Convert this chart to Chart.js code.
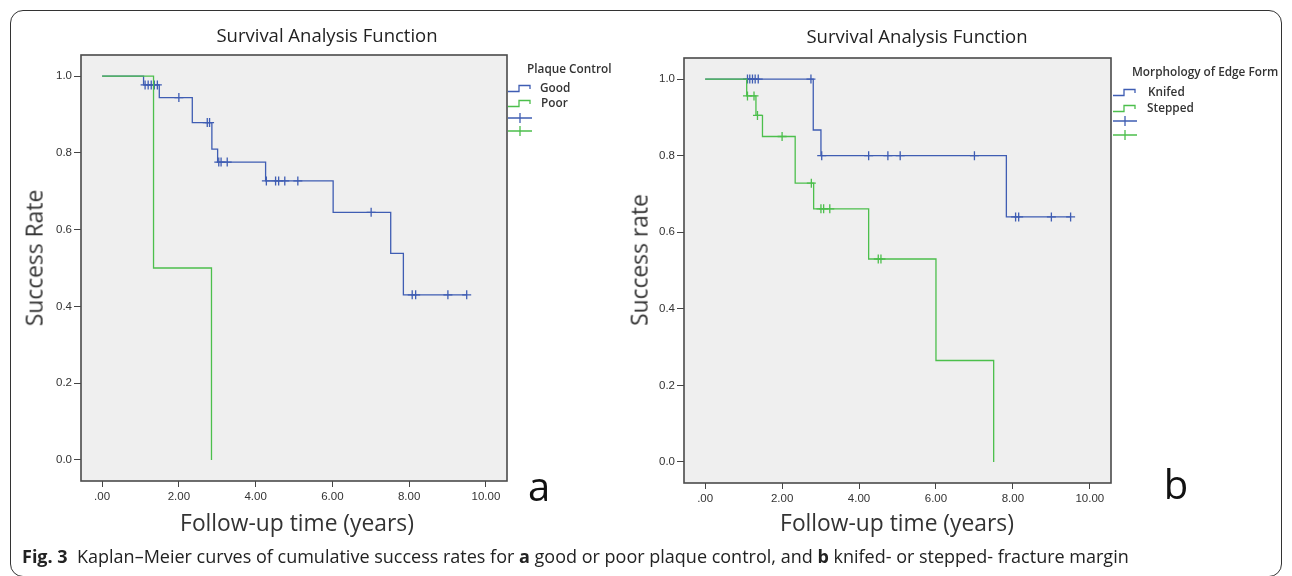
<!DOCTYPE html>
<html>
<head>
<meta charset="utf-8">
<script src="https://cdn.jsdelivr.net/npm/chart.js@4.4.1/dist/chart.umd.min.js"></script>
<style>
  html, body { margin: 0; padding: 0; background: #fff; }
  body { width: 1292px; height: 576px; position: relative; overflow: hidden; font-family: "Open Sans", sans-serif; color: #222; }
  canvas { position: absolute; left: 0; top: 0; }
  .frame { position: absolute; left: 10px; top: 10px; width: 1272px; height: 567px; box-sizing: border-box; border: 1px solid #333; border-radius: 13px; }
  .t { position: absolute; white-space: nowrap; line-height: 1; z-index: 2; }
  .mid { transform: translate(-50%, -50%); }
  .left { transform: translateY(-50%); }
  .title { font-size: 18.5px; color: #222; }
  .axis { font-size: 22.8px; color: #333; }
  .rot { transform: translate(-50%, -50%) rotate(-90deg); }
  .letter { font-size: 40px; color: #111; }
  .lg { font-size: 11.8px; font-weight: 600; color: #333; }
  .icon { position: absolute; z-index: 2; }
  .cap { font-size: 18px; color: #222; }
</style>
</head>
<body>
<div class="frame"></div>
<canvas id="chartA" width="1292" height="576"></canvas>
<canvas id="chartB" width="1292" height="576"></canvas>

<!-- Panel a -->
<div class="t mid title" style="left:327px; top:35px">Survival Analysis Function</div>
<div class="t rot axis" style="left:35px; top:258px">Success Rate</div>
<div class="t mid axis" style="left:297px; top:523px">Follow-up time (years)</div>
<div class="t mid letter" style="left:539px; top:486px">a</div>
<div class="t left lg" style="left:527px; top:69px">Plaque Control</div>
<svg class="icon" style="left:508px; top:83px" width="24" height="10"><path d="M0 8.5H11V2.5H22V6" fill="none" stroke="#3f5db3" stroke-width="1.3"/></svg>
<div class="t left lg" style="left:540px; top:88px">Good</div>
<svg class="icon" style="left:508px; top:98px" width="24" height="10"><path d="M0 8.5H11V2.5H22V6" fill="none" stroke="#4cbf4c" stroke-width="1.3"/></svg>
<div class="t left lg" style="left:541px; top:103px">Poor</div>
<svg class="icon" style="left:508px; top:112px" width="24" height="12"><path d="M0 6H24M12 1V11" fill="none" stroke="#3f5db3" stroke-width="1.3"/></svg>
<svg class="icon" style="left:508px; top:125px" width="24" height="12"><path d="M0 6H24M12 1V11" fill="none" stroke="#4cbf4c" stroke-width="1.3"/></svg>

<!-- Panel b -->
<div class="t mid title" style="left:917px; top:36px">Survival Analysis Function</div>
<div class="t rot axis" style="left:640px; top:260px">Success rate</div>
<div class="t mid axis" style="left:897px; top:523px">Follow-up time (years)</div>
<div class="t mid letter" style="left:1176px; top:484px">b</div>
<div class="t left lg" style="left:1132px; top:72px">Morphology of Edge Form</div>
<svg class="icon" style="left:1113px; top:87px" width="24" height="10"><path d="M0 8.5H11V2.5H22V6" fill="none" stroke="#3f5db3" stroke-width="1.3"/></svg>
<div class="t left lg" style="left:1148px; top:92px">Knifed</div>
<svg class="icon" style="left:1113px; top:103px" width="24" height="10"><path d="M0 8.5H11V2.5H22V6" fill="none" stroke="#4cbf4c" stroke-width="1.3"/></svg>
<div class="t left lg" style="left:1147px; top:108px">Stepped</div>
<svg class="icon" style="left:1113px; top:115px" width="24" height="12"><path d="M0 6H24M12 1V11" fill="none" stroke="#3f5db3" stroke-width="1.3"/></svg>
<svg class="icon" style="left:1113px; top:129px" width="24" height="12"><path d="M0 6H24M12 1V11" fill="none" stroke="#4cbf4c" stroke-width="1.3"/></svg>

<div class="t left cap" style="left:22px; top:556px"><b>Fig. 3</b>&nbsp; Kaplan–Meier curves of cumulative success rates for <b>a</b> good or poor plaque control, and <b>b</b> knifed- or stepped- fracture margin</div>

<script>
// Achsen
const xTickValues = [0, 2, 4, 6, 8, 10];
const xTickLabels = [".00", "2.00", "4.00", "6.00", "8.00", "10.00"];
const yTickValues = [0, 0.2, 0.4, 0.6, 0.8, 1.0];
const yTickLabels = ["0.0", "0.2", "0.4", "0.6", "0.8", "1.0"];

// a – Plaque Control (Zeit in Jahren, Ereigniszeitpunkte + Überlebensrate danach)
const goodTimes = [0, 1.08, 1.49, 2.35, 2.86, 3.01, 4.26, 6.02, 7.52, 7.85, 9.5];
const goodSurv = [1.0, 0.977, 0.944, 0.879, 0.810, 0.776, 0.727, 0.645, 0.538, 0.430, 0.430];
const goodCensored = [1.12, 1.2, 1.28, 1.36, 1.44, 2.0, 2.74, 2.8, 3.04, 3.1, 3.26, 4.28, 4.52, 4.6, 4.76, 5.1, 7.01, 8.08, 8.17, 9.01, 9.5];
const poorTimes = [0, 1.34, 2.85];
const poorSurv = [1.0, 0.5, 0.0];
const poorCensored = [];

// b – Morphology of Edge Form
const knifedTimes = [0, 2.81, 3.01, 7.83, 9.5];
const knifedSurv = [1.0, 0.867, 0.800, 0.640, 0.640];
const knifedCensored = [1.1, 1.16, 1.23, 1.3, 1.38, 2.75, 3.03, 4.25, 4.75, 5.07, 7.0, 8.07, 8.15, 9.0, 9.5];
const steppedTimes = [0, 1.08, 1.32, 1.49, 2.34, 2.82, 4.25, 6.0, 7.5];
const steppedSurv = [1.0, 0.956, 0.905, 0.850, 0.728, 0.661, 0.530, 0.265, 0.0];
const steppedCensored = [1.1, 1.27, 1.36, 2.0, 2.76, 3.01, 3.08, 3.24, 4.5, 4.57];

const BLUE = "#3f5db3";
const GREEN = "#4cbf4c";
const tickFont = { family: "'Liberation Sans', Arial, sans-serif", size: 11.5 };

// Stufen-Punkte
function steps(times, surv) {
  return times.map((t, i) => ({ x: t, y: surv[i] }));
}

// Zensierte Fälle liegen auf der jeweiligen Stufe
function marks(times, surv, censored) {
  return censored.map(t => {
    let y = surv[0];
    for (let i = 0; i < times.length; i++) {
      if (times[i] <= t) y = surv[i];
    }
    return { x: t, y };
  });
}

// grauer Plotbereich mit Rahmen wie SPSS
const plotFrame = {
  id: "plotFrame",
  beforeDraw(chart) {
    const { ctx, chartArea: a } = chart;
    ctx.save();
    ctx.fillStyle = "#efefef";
    ctx.fillRect(a.left, a.top, a.width, a.height);
    ctx.restore();
  },
  afterDraw(chart) {
    const { ctx, chartArea: a } = chart;
    ctx.save();
    ctx.strokeStyle = "#4a4a4a";
    ctx.lineWidth = 1.6;
    ctx.strokeRect(a.left, a.top, a.width, a.height);
    ctx.restore();
  }
};

function renderKM(ctxId, padding, groups) {
  const canvas = document.getElementById(ctxId);
  if (!canvas) {
    console.error(`Canvas '${ctxId}' nicht gefunden`);
    return;
  }
  const datasets = [];
  groups.forEach(g => {
    datasets.push({
      data: steps(g.times, g.surv),
      borderColor: g.color,
      borderWidth: 1.3,
      stepped: "before",
      pointRadius: 0,
      fill: false,
      order: g.order
    });
    datasets.push({
      data: marks(g.times, g.surv, g.censored),
      showLine: false,
      pointStyle: "cross",
      pointRadius: 4.5,
      pointBorderColor: g.color,
      pointBackgroundColor: g.color,
      pointBorderWidth: 1.3,
      order: g.order
    });
  });

  new Chart(canvas, {
    type: "line",
    data: { datasets },
    plugins: [plotFrame],
    options: {
      responsive: false,
      animation: false,
      devicePixelRatio: 1,
      layout: { padding },
      plugins: { legend: { display: false }, tooltip: { enabled: false } },
      scales: {
        x: {
          type: "linear",
          min: -0.55,
          max: 10.55,
          afterBuildTicks: s => { s.ticks = xTickValues.map(v => ({ value: v })); },
          afterFit: s => { s.height = 30; },
          ticks: {
            callback: (v, i) => xTickLabels[i],
            color: "#333",
            font: tickFont,
            padding: 3,
            maxRotation: 0,
            autoSkip: false
          },
          grid: { drawOnChartArea: false, drawTicks: true, tickLength: 6, color: "#444" },
          border: { display: false }
        },
        y: {
          min: -0.055,
          max: 1.055,
          afterBuildTicks: s => { s.ticks = yTickValues.map(v => ({ value: v })); },
          afterFit: s => { s.width = 40; },
          ticks: {
            callback: (v, i) => yTickLabels[i],
            color: "#333",
            font: tickFont,
            padding: 2,
            autoSkip: false
          },
          grid: { drawOnChartArea: false, drawTicks: true, tickLength: 7, color: "#444" },
          border: { display: false }
        }
      }
    }
  });
}

renderKM("chartA", { left: 41, right: 785, top: 55, bottom: 65 }, [
  { times: goodTimes, surv: goodSurv, censored: goodCensored, color: BLUE, order: 1 },
  { times: poorTimes, surv: poorSurv, censored: poorCensored, color: GREEN, order: 0 }
]);

renderKM("chartB", { left: 644, right: 181, top: 58, bottom: 63 }, [
  { times: knifedTimes, surv: knifedSurv, censored: knifedCensored, color: BLUE, order: 1 },
  { times: steppedTimes, surv: steppedSurv, censored: steppedCensored, color: GREEN, order: 0 }
]);
</script>
</body>
</html>
